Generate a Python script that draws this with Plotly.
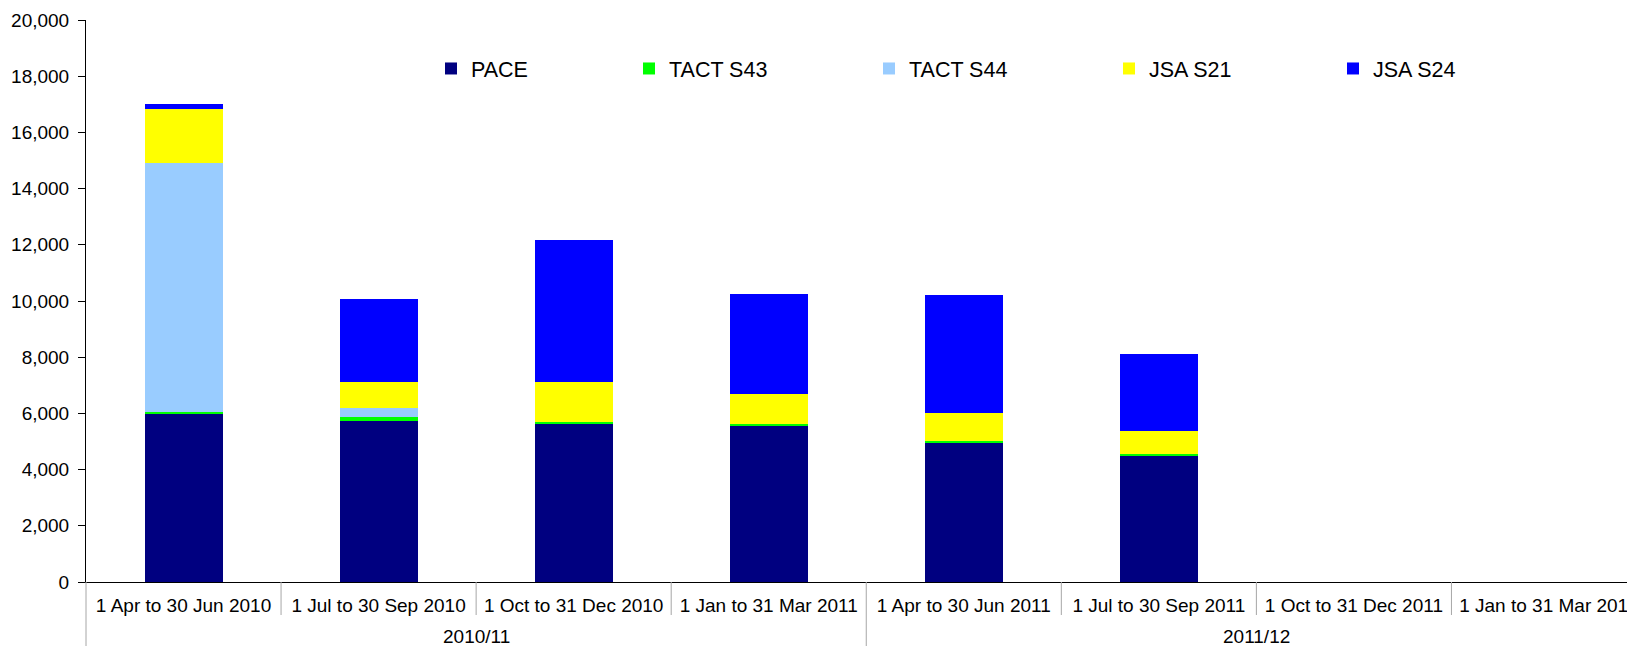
import plotly.graph_objects as go

quarters = ["1 Apr to 30 Jun 2010", "1 Jul to 30 Sep 2010", "1 Oct to 31 Dec 2010", "1 Jan to 31 Mar 2011",
            "1 Apr to 30 Jun 2011", "1 Jul to 30 Sep 2011", "1 Oct to 31 Dec 2011", "1 Jan to 31 Mar 2012"]
years = ["2010/11", "2011/12"]
year_centers = [1.5, 5.5]

pace = [6000, 5720, 5610, 5560, 4930, 4510, None, None]
tact_s43 = [50, 150, 80, 70, 100, 50, None, None]
tact_s44 = [8845, 330, 0, 0, 0, 0, None, None]
jsa_s21 = [1930, 925, 1420, 1045, 975, 830, None, None]
jsa_s24 = [200, 2930, 5075, 3570, 4205, 2720, None, None]

series = [
    ("PACE", pace, "#000080"),
    ("TACT S43", tact_s43, "#00FF00"),
    ("TACT S44", tact_s44, "#99CCFF"),
    ("JSA S21", jsa_s21, "#FFFF00"),
    ("JSA S24", jsa_s24, "#0000FF"),
]

W, H = 1627, 646
ML, MT, MB = 86, 20, 64
PW, PH = W - ML, H - MT - MB
FONT = "Arial, Liberation Sans, sans-serif"

legend_text_px = [473, 671, 911, 1151, 1375]
legend_names = ["legend", "legend2", "legend3", "legend4", "legend5"]

fig = go.Figure()
for (name, vals, color), lg in zip(series, legend_names):
    fig.add_trace(go.Bar(x=quarters, y=vals, name=name, marker=dict(color=color, line=dict(width=0)),
                         width=0.4, legend=lg))

layout_legends = {}
for lg, tx in zip(legend_names, legend_text_px):
    layout_legends[lg] = dict(
        x=(tx - 42 - ML) / PW, xref="paper", xanchor="left",
        y=1 - (68.5 - MT) / PH, yref="paper", yanchor="middle",
        bgcolor="rgba(0,0,0,0)", borderwidth=0,
        font=dict(family=FONT, size=21.5, color="black"),
    )

shapes = []
for b in [0.5, 1.5, 2.5, 4.5, 5.5, 6.5]:
    shapes.append(dict(type="line", xref="x", yref="paper", x0=b, x1=b, y0=0, y1=-33 / PH,
                       line=dict(color="#A6A6A6", width=1)))
ybot = -(MB + 2) / PH
shapes.append(dict(type="line", xref="paper", yref="paper", x0=0, x1=0, y0=0, y1=ybot,
                   line=dict(color="#A6A6A6", width=1)))
shapes.append(dict(type="line", xref="x", yref="paper", x0=3.5, x1=3.5, y0=0, y1=ybot,
                   line=dict(color="#A6A6A6", width=1)))

annotations = []
for yr, xc in zip(years, year_centers):
    annotations.append(dict(text=yr, x=xc, xref="x", y=-54.5 / PH, yref="paper", yanchor="middle",
                            showarrow=False, font=dict(family=FONT, size=19, color="black")))

fig.update_layout(
    width=W, height=H,
    margin=dict(l=ML, r=0, t=MT, b=MB, autoexpand=False),
    paper_bgcolor="white", plot_bgcolor="white",
    barmode="stack",
    showlegend=True,
    shapes=shapes,
    annotations=annotations,
    font=dict(family=FONT, size=19, color="black"),
    **layout_legends,
)
fig.update_xaxes(
    type="category", categoryorder="array", categoryarray=quarters,
    range=[-0.5, 7.4], showline=True, linecolor="black", linewidth=1,
    ticks="", showgrid=False, tickangle=0, ticklabeloverflow="allow",
    tickfont=dict(family=FONT, size=19, color="black"), ticklabelstandoff=6,
)
fig.update_yaxes(
    range=[0, 20000], dtick=2000, tickformat=",d", showline=True, linecolor="black", linewidth=1,
    ticks="outside", ticklen=7, tickcolor="black", showgrid=False, zeroline=False,
    tickfont=dict(family=FONT, size=19, color="black"), ticklabelstandoff=5,
)

fig.write_html("out.html", config={"displayModeBar": False},
               post_script="document.body.style.margin='0px';document.body.style.overflow='hidden';")
